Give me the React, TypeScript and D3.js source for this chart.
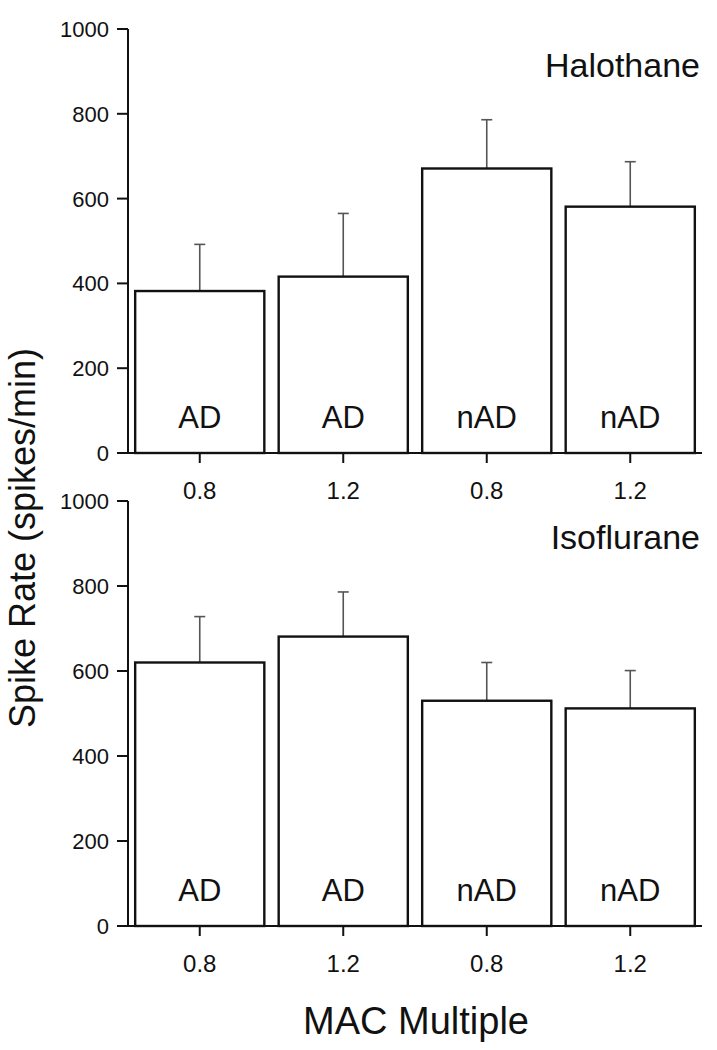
import React from "react";
import * as d3 from "d3";

const categories = ["0.8", "1.2", "0.8", "1.2"];
const groupLabels = ["AD", "AD", "nAD", "nAD"];
const halothaneMeans = [382, 416, 671, 581];
const halothaneErrTop = [492, 565, 786, 687];
const isofluraneMeans = [620, 681, 530, 512];
const isofluraneErrTop = [728, 786, 620, 601];
const yTicks = [0, 200, 400, 600, 800, 1000];
const panelTitles = ["Halothane", "Isoflurane"];

const FONT = "'Liberation Sans', Arial, sans-serif";

function Panel({ top, bottom, means, errTop, title }: { top: number; bottom: number; means: number[]; errTop: number[]; title: string }) {
  const x = d3.scaleBand<number>().domain([0, 1, 2, 3]).range([128, 702]).paddingInner(0.1).paddingOuter(0.05);
  const y = d3.scaleLinear().domain([0, 1000]).range([bottom, top]);
  const bw = x.bandwidth();
  return (
    <g>
      {means.map((m, i) => {
        const cx = (x(i) as number) + bw / 2;
        return (
          <g key={i}>
            <line x1={cx} x2={cx} y1={y(m)} y2={y(errTop[i])} stroke="#555" strokeWidth={1.6} />
            <line x1={cx - 5.5} x2={cx + 5.5} y1={y(errTop[i])} y2={y(errTop[i])} stroke="#555" strokeWidth={1.6} />
            <rect x={x(i) as number} y={y(m)} width={bw} height={y(0) - y(m)} fill="white" stroke="#111" strokeWidth={2.4} />
            <text x={cx} y={bottom - 25} textAnchor="middle" fontFamily={FONT} fontSize={31} fill="#111">{groupLabels[i]}</text>
            <line x1={cx} x2={cx} y1={bottom} y2={bottom + 10} stroke="#111" strokeWidth={2} />
            <text x={cx} y={bottom + 46} textAnchor="middle" fontFamily={FONT} fontSize={24} fill="#111">{categories[i]}</text>
          </g>
        );
      })}
      <line x1={128} x2={128} y1={y(1000)} y2={y(0)} stroke="#111" strokeWidth={2} />
      <line x1={117} x2={702} y1={y(0)} y2={y(0)} stroke="#111" strokeWidth={2} />
      {yTicks.map((t) => (
        <g key={t}>
          <line x1={117} x2={128} y1={y(t)} y2={y(t)} stroke="#111" strokeWidth={2} />
          <text x={109} y={y(t) + 8} textAnchor="end" fontFamily={FONT} fontSize={22} fill="#111">{t}</text>
        </g>
      ))}
      <text x={700} y={top + 48} textAnchor="end" fontFamily={FONT} fontSize={34} fill="#111">{title}</text>
    </g>
  );
}

export default function App() {
  return (
    <svg width={717} height={1050} style={{ position: "absolute", left: 0, top: 0, background: "white" }}>
      <rect x={0} y={0} width={717} height={1050} fill="white" />
      <Panel top={29} bottom={453} means={halothaneMeans} errTop={halothaneErrTop} title={panelTitles[0]} />
      <Panel top={501} bottom={926} means={isofluraneMeans} errTop={isofluraneErrTop} title={panelTitles[1]} />
      <text transform="translate(35,538) rotate(-90)" textAnchor="middle" fontFamily={FONT} fontSize={36} fill="#111">Spike Rate (spikes/min)</text>
      <text x={416} y={1034} textAnchor="middle" fontFamily={FONT} fontSize={38} fill="#111">MAC Multiple</text>
    </svg>
  );
}
